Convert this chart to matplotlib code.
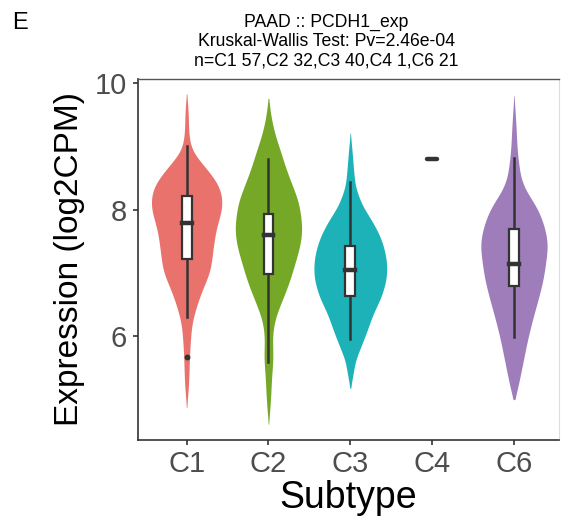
import numpy as np
import matplotlib
matplotlib.use("Agg")
import matplotlib.pyplot as plt

plt.rcParams['font.family'] = ['Liberation Sans', 'DejaVu Sans']

# 分组与颜色
groups = ["C1", "C2", "C3", "C4", "C6"]
colors = {"C1": "#E9736C", "C2": "#76A827", "C3": "#1CB2B8", "C6": "#9F7CBA"}

# 小提琴轮廓: (表达值, 半宽) 从图上读取
c1_y = [9.84, 9.58, 9.18, 8.92, 8.66, 8.39, 8.18, 7.97, 7.76, 7.55, 7.34, 7.02, 6.70, 6.39, 6.18, 5.75, 5.23, 4.86]
c1_w = [0.0, 0.02, 0.025, 0.06, 0.24, 0.40, 0.44, 0.43, 0.37, 0.34, 0.32, 0.29, 0.18, 0.10, 0.06, 0.037, 0.025, 0.0]
c2_y = [9.77, 9.45, 9.18, 8.92, 8.66, 8.39, 8.13, 7.86, 7.71, 7.44, 7.18, 6.91, 6.65, 6.39, 6.18, 5.91, 5.70, 5.33, 4.96, 4.60]
c2_w = [0.0, 0.033, 0.08, 0.15, 0.21, 0.29, 0.37, 0.40, 0.415, 0.39, 0.33, 0.27, 0.195, 0.11, 0.06, 0.045, 0.06, 0.037, 0.025, 0.0]
c3_y = [9.22, 8.89, 8.63, 8.36, 8.05, 7.84, 7.57, 7.31, 7.10, 6.89, 6.62, 6.36, 6.10, 5.83, 5.62, 5.41, 5.17]
c3_w = [0.0, 0.025, 0.04, 0.06, 0.15, 0.26, 0.37, 0.43, 0.45, 0.44, 0.38, 0.28, 0.21, 0.13, 0.06, 0.037, 0.0]
c6_y = [9.81, 9.45, 8.92, 8.50, 8.28, 8.07, 7.86, 7.65, 7.44, 7.18, 6.91, 6.60, 6.28, 5.97, 5.65, 5.33, 5.12, 4.99]
c6_w = [0.0, 0.02, 0.04, 0.08, 0.15, 0.27, 0.34, 0.39, 0.415, 0.39, 0.36, 0.30, 0.23, 0.17, 0.12, 0.07, 0.037, 0.0]
violins = {"C1": (c1_y, c1_w), "C2": (c2_y, c2_w), "C3": (c3_y, c3_w), "C6": (c6_y, c6_w)}

# 箱线图统计量: 下须, Q1, 中位数, Q3, 上须
box_stats = {
    "C1": [6.30, 7.22, 7.79, 8.21, 9.01],
    "C2": [5.59, 6.98, 7.60, 7.93, 8.80],
    "C3": [5.96, 6.63, 7.05, 7.43, 8.44],
    "C4": [8.81, 8.81, 8.81, 8.81, 8.81],
    "C6": [5.99, 6.80, 7.14, 7.69, 8.82],
}
outliers = {"C1": [5.67]}


def smooth_outline(vy, vw, n=400, sigma=10):
    """把读取的轮廓点平滑一下, 让边缘不那么生硬"""
    vy = np.asarray(vy)[::-1]
    vw = np.asarray(vw)[::-1]
    yy = np.linspace(vy[0], vy[-1], n)
    ww = np.interp(yy, vy, vw)
    k = np.arange(-3 * sigma, 3 * sigma + 1)
    kern = np.exp(-0.5 * (k / sigma) ** 2)
    kern /= kern.sum()
    ww = np.convolve(np.pad(ww, 3 * sigma, mode="edge"), kern, mode="valid")
    ww[0] = ww[-1] = 0
    return yy, ww


fig = plt.figure(figsize=(5.61, 5.16), dpi=100)
ax = fig.add_axes([0.2451, 0.1473, 0.7513, 0.6996])

dark = "#333333"
bw = 0.06  # 箱体半宽
for i, g in enumerate(groups):
    x = i + 1
    if g in violins:
        yy, ww = smooth_outline(*violins[g])
        ax.fill_betweenx(yy, x - ww, x + ww, color=colors[g], lw=0, zorder=1)
    lo, q1, med, q3, hi = box_stats[g]
    if g == "C4":
        ax.plot([x - bw, x + bw], [med, med], color=dark, lw=3.2, solid_capstyle="round", zorder=3)
        continue
    ax.plot([x, x], [lo, q1], color=dark, lw=1.8, zorder=2)
    ax.plot([x, x], [q3, hi], color=dark, lw=1.8, zorder=2)
    ax.add_patch(plt.Rectangle((x - bw, q1), 2 * bw, q3 - q1, facecolor="white",
                               edgecolor=dark, lw=1.6, zorder=3))
    ax.plot([x - bw, x + bw], [med, med], color=dark, lw=3.2, zorder=4)
    for o in outliers.get(g, []):
        ax.plot(x, o, "o", color=dark, ms=3.2, zorder=4)

ax.set_xlim(0.4, 5.55)
ax.set_ylim(4.354, 10.07)
ax.set_xticks(range(1, len(groups) + 1))
ax.set_xticklabels(groups)
ax.set_yticks([6, 8, 10])
ax.tick_params(axis="both", labelsize=21, labelcolor="#4D4D4D", color=dark,
               length=3.5, width=1.2, pad=4)
for s in ["left", "bottom"]:
    ax.spines[s].set_color(dark)
    ax.spines[s].set_linewidth(1.2)
ax.spines["top"].set_color("#555555")
ax.spines["top"].set_linewidth(1.0)
ax.spines["right"].set_color("#DDDDDD")
ax.spines["right"].set_linewidth(0.8)

ax.set_xlabel("Subtype", fontsize=27, labelpad=1)
ax.set_ylabel("Expression (log2CPM)", fontsize=24, labelpad=7)

fig.text(326 / 561, 1 - 27 / 516, "PAAD :: PCDH1_exp", fontsize=12.7, ha="center", va="baseline")
fig.text(326 / 561, 1 - 46 / 516, "Kruskal-Wallis Test: Pv=2.46e-04", fontsize=12.7, ha="center", va="baseline")
fig.text(326 / 561, 1 - 65 / 516, "n=C1 57,C2 32,C3 40,C4 1,C6 21", fontsize=12.7, ha="center", va="baseline")
fig.text(12 / 561, 1 - 29 / 516, "E", fontsize=17, ha="left", va="baseline")

plt.savefig("out.png", dpi=100)
